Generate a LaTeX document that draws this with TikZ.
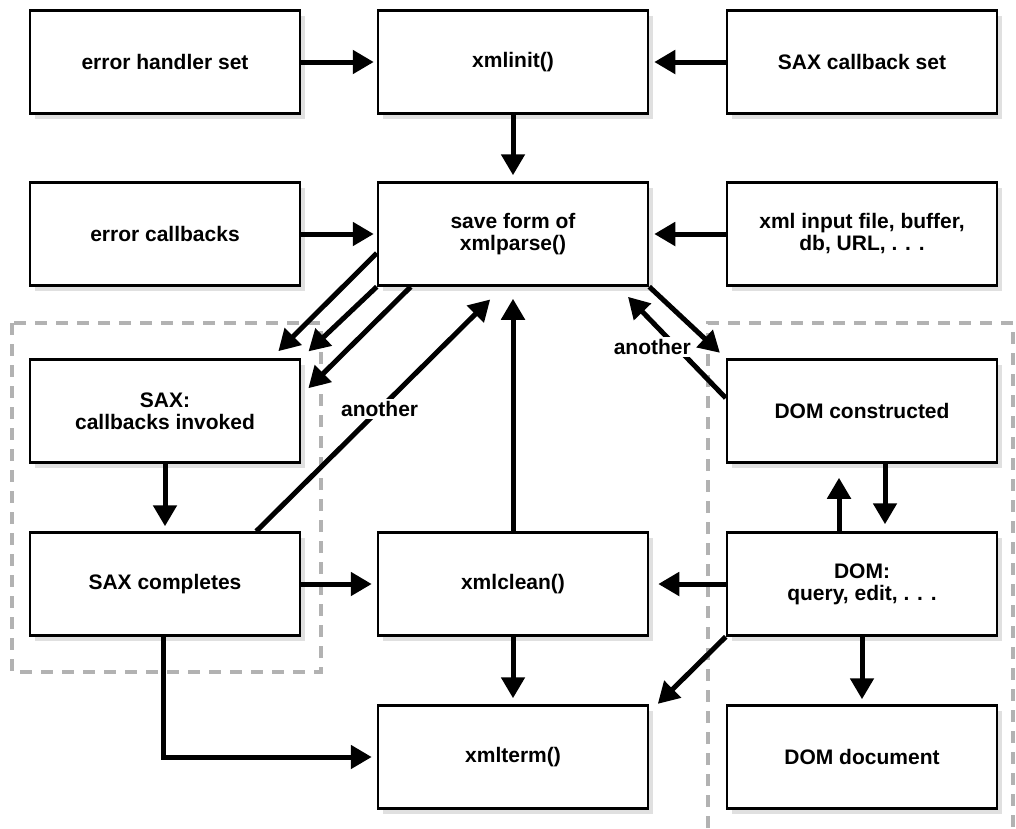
\documentclass[tikz,border=0pt]{standalone}
\usepackage{fontspec}
\setmainfont{Liberation Sans}
\usetikzlibrary{arrows.meta,calc,shadows}

\begin{document}
\begin{tikzpicture}[x=1pt, y=-1pt,
  box/.style={draw=black, line width=2.5pt, fill=white, minimum width=270pt, minimum height=103pt, align=center, font=\fontsize{21}{22}\selectfont\bfseries, drop shadow={shadow xshift=5pt, shadow yshift=-5pt, fill=black!12, opacity=1}},
  flow/.style={line width=5pt, -{Triangle[length=21pt,width=23pt]}},
  zone/.style={black!30, line width=4pt, dash pattern=on 12pt off 9pt},
  lbl/.style={fill=white, inner sep=2pt, font=\fontsize{21}{22}\selectfont\bfseries}]
  \useasboundingbox (0,0) rectangle (1016,828);

  % Dashed groups
  \draw[zone] (12,323) rectangle (321,672);
  \draw[zone] (708,828) -- (708,323) -- (1013,323) -- (1013,828);

  % Top row
  \node[box] (errset) at (165,62) {error handler set};
  \node[box] (init) at (513,62) {xmlinit()};
  \node[box] (saxset) at (862,62) {SAX callback set};

  % Parse row
  \node[box] (errcb) at (165,234) {error callbacks};
  \node[box] (parse) at (513,234) {save form of\\xmlparse()};
  \node[box] (input) at (862,234) {xml input file, buffer,\\db, URL, . . .};

  % SAX side
  \node[box] (saxcb) at (165,411) {SAX:\\callbacks invoked};
  \node[box] (saxdone) at (165,584) {SAX completes};

  % DOM side
  \node[box] (dombuild) at (862,411) {DOM constructed};
  \node[box] (domquery) at (862,584) {DOM:\\query, edit, . . .};
  \node[box] (domdoc) at (862,757) {DOM document};

  % Cleanup
  \node[box] (clean) at (513,584) {xmlclean()};
  \node[box] (term) at (513,757) {xmlterm()};

  % Setup arrows
  \draw[flow, shorten >=3pt] (errset) -- (init);
  \draw[flow, shorten >=5pt] (saxset) -- (init);
  \draw[flow, shorten >=6pt] (init) -- (parse);
  \draw[flow, shorten >=3pt] (errcb) -- (parse);
  \draw[flow, shorten >=5pt] (input) -- (parse);

  % Parse to SAX
  \draw[flow, shorten >=10pt] (parse.188) -- ($(saxcb.north east)+(-30,0)$);
  \draw[flow, shorten >=10pt] (parse.south west) -- (saxcb.north east);
  \draw[flow, shorten >=10pt] ($(parse.south west)+(34,0)$) -- ($(saxcb.north east)+(0,37)$);
  \draw[flow, shorten >=5pt] (saxcb) -- (saxdone);
  \draw[flow, shorten >=18pt] ($(saxdone.north east)+(-45,0)$) -- node[lbl, pos=0.5] (again1) {another} ($(parse.south)+(-10,0)$);

  % Parse to DOM
  \draw[flow, shorten >=8pt] (parse.south east) -- (dombuild.north west);
  \draw[flow, shorten >=14pt] ($(dombuild.west)+(0,-13)$) -- node[lbl, pos=0.46, xshift=-24pt] (again2) {another} ($(parse.south east)+(-31,0)$);
  \draw[flow, shorten >=7pt] ($(dombuild.south)+(23,0)$) -- ($(domquery.north)+(23,0)$);
  \draw[flow, shorten >=14pt] ($(domquery.north)+(-23,0)$) -- ($(dombuild.south)+(-23,0)$);
  \draw[flow, shorten >=5pt] (domquery) -- (domdoc);

  % Cleanup arrows
  \draw[flow, shorten >=12pt] (clean) -- (parse);
  \draw[flow, shorten >=5pt] (saxdone) -- (clean);
  \draw[flow, shorten >=9pt] (domquery) -- (clean);
  \draw[flow, shorten >=6pt] (clean) -- (term);
  \draw[flow, shorten >=12pt] (domquery.south west) -- ($(term.north east)+(0,8)$);
  \draw[flow, shorten >=5pt] ($(saxdone.south)+(-2,0)$) |- (term.west);
\end{tikzpicture}
\end{document}
